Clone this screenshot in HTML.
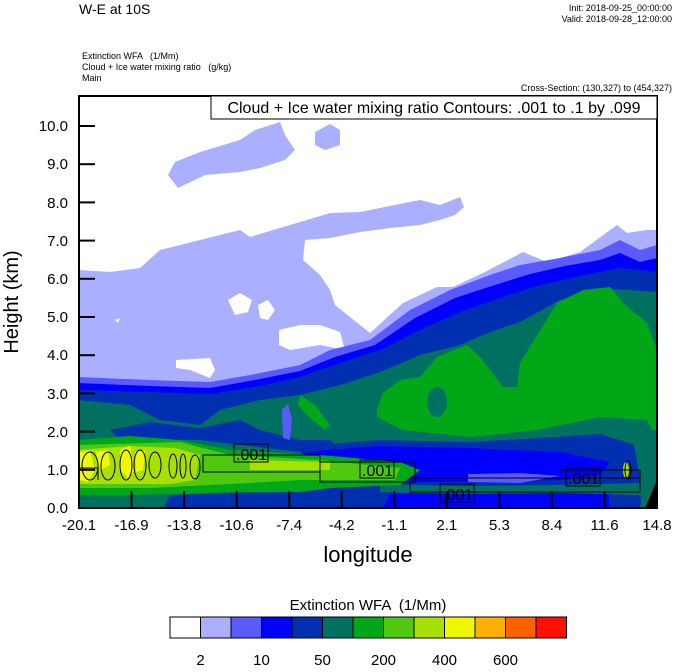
<!DOCTYPE html>
<html><head><meta charset="utf-8"><style>
body{margin:0;background:#fff;width:674px;height:667px;overflow:hidden;font-family:"Liberation Sans",sans-serif}
</style></head><body>
<svg width="674" height="667" viewBox="0 0 674 667" xmlns="http://www.w3.org/2000/svg" font-family="Liberation Sans, sans-serif">
<defs><clipPath id="c"><rect x="79" y="96" width="578" height="412"/></clipPath></defs>
<g clip-path="url(#c)">
<path fill="#aab0ff" d="M79,270 L110,272 L140,268 L160,250 L200,240 L240,230 L250,237 L290,225 L330,213 L360,212 L420,200 L440,205 L460,197 L464,207 L455,215 L440,220 L420,225 L390,228 L360,232 L330,238 L305,240 L303,260 L320,275 L330,290 L335,305 L370,333 L403,303 L437,287 L453,287 L483,273 L523,252 L547,262 L580,252 L617,225 L627,233 L647,230 L657,230 L657,508 L79,508Z"/>
<path fill="#aab0ff" d="M168,175 L175,162 L200,152 L240,140 L255,130 L280,122 L285,135 L295,150 L285,160 L260,168 L240,172 L205,175 L178,188Z"/>
<path fill="#aab0ff" d="M315,132 L330,124 L340,130 L340,145 L325,150 L315,145Z"/>
<path fill="#fff" d="M228,300 L240,293 L252,300 L248,312 L235,315Z M258,305 L268,300 L275,310 L268,320 L260,318Z M279,330 L300,325 L320,325 L340,332 L345,350 L320,345 L290,350 L279,345Z M176,360 L210,358 L215,370 L210,378 L190,370 L176,368Z M115,320 L120,318 L118,323Z"/>
<path fill="#5a5aff" d="M79,377 L150,380 L210,382 L250,375 L300,365 L330,350 L370,340 L410,310 L450,290 L490,275 L520,265 L560,258 L600,250 L620,240 L640,250 L657,245 L657,508 L79,508Z"/>
<path fill="#0000ff" d="M79,383 L150,386 L210,388 L255,380 L300,371 L335,357 L375,345 L415,318 L455,298 L495,285 L530,274 L565,266 L600,260 L620,253 L640,262 L657,258 L657,508 L79,508Z"/>
<path fill="#0030b0" d="M79,390 L150,392 L210,394 L260,386 L300,377 L340,363 L380,350 L420,330 L460,312 L500,298 L540,285 L580,276 L620,268 L657,272 L657,508 L79,508Z"/>
<path fill="#007060" d="M79,400 L130,405 L160,420 L200,425 L220,410 L260,400 L300,395 L340,385 L380,372 L420,355 L460,345 L490,332 L520,322 L560,300 L600,288 L657,292 L657,508 L79,508Z"/>
<path fill="#0030b0" d="M110,430 L150,422 L200,428 L240,420 L260,430 L300,440 L330,440 L340,450 L300,452 L200,440 L120,440Z"/>
<path fill="#5a5aff" d="M282,410 L288,404 L292,420 L290,440 L283,438Z"/>
<path fill="#00a818" d="M377,410 L383,393 L400,380 L420,377 L437,357 L467,345 L480,357 L503,387 L517,387 L520,363 L557,303 L583,290 L610,287 L623,303 L647,323 L657,350 L657,440 L647,420 L600,417 L537,430 L470,437 L403,430 L377,417Z"/>
<ellipse fill="#007060" cx="437" cy="402" rx="10" ry="15"/>
<path fill="#00a818" d="M300,395 L315,405 L330,425 L325,430 L310,418 L298,405Z"/>
<!-- bottom band -->
<path fill="#0030b0" d="M164,508 L170,495 L230,493 L300,492 L330,485 L330,465 L300,446 L380,440 L470,442 L540,438 L600,434 L635,445 L645,470 L640,508Z"/>
<path fill="#0000ff" d="M300,452 L380,446 L470,448 L560,452 L610,462 L600,475 L560,480 L470,482 L420,482 L330,470Z"/>
<path fill="#0000ff" d="M383,508 L390,494 L470,492 L560,492 L609,494 L609,508Z"/>
<path fill="#5a5aff" d="M468,474 L520,473 L560,476 L520,483 L468,482Z"/>
<path fill="#007060" d="M380,484 L460,486 L560,485 L640,483 L645,478 L657,460 L657,508 L645,508 L640,495 L560,493 L460,494 L380,492Z"/>
<path fill="#007060" d="M630,430 L657,430 L657,508 L645,508 L640,480 L635,450Z"/>
<path fill="#00a818" d="M79,440 L130,436 L180,440 L230,450 L320,455 L400,462 L420,470 L400,485 L330,488 L300,492 L230,492 L180,494 L120,495 L79,495Z"/>
<path fill="#50c810" d="M79,445 L180,442 L230,455 L320,460 L400,468 L395,480 L300,480 L230,484 L150,488 L79,488Z"/>
<path fill="#a8e000" d="M79,450 L130,446 L175,448 L200,455 L195,480 L170,484 L130,484 L79,484Z M250,460 L330,462 L330,470 L250,470Z"/>
<path fill="#f0f800" d="M80,452 L90,450 L95,470 L88,482 L80,480Z M96,452 L108,450 L110,465 L100,470Z M120,450 L130,446 L135,470 L128,478 L120,470Z M135,452 L145,450 L143,470 L136,472Z"/>
<ellipse fill="#a8e000" cx="626" cy="470" rx="3" ry="8"/>
<path fill="#000" d="M645,508 L657,480 L657,508Z"/>
</g>
<g fill="none" stroke="#000" stroke-width="1">
<path d="M79,468 L98,468 L98,480 M203,455 L320,455 L320,472 L203,472Z M320,462 L415,462 L415,482 L320,482Z M410,478 L640,478 L640,492 L410,492Z M560,470 L640,470 L640,480"/>
<ellipse cx="90" cy="466" rx="8" ry="14"/><ellipse cx="108" cy="466" rx="7" ry="14"/>
<ellipse cx="126" cy="465" rx="6" ry="15"/><ellipse cx="140" cy="465" rx="6" ry="15"/>
<ellipse cx="155" cy="465" rx="6" ry="13"/><ellipse cx="173" cy="466" rx="4" ry="12"/>
<ellipse cx="183" cy="466" rx="3" ry="12"/><ellipse cx="195" cy="467" rx="5" ry="12"/>
<ellipse cx="628" cy="470" rx="3" ry="9"/>
</g>
<g font-size="16" fill="#000">
<rect x="234" y="444" width="34" height="18" fill="none" stroke="#000"/><text x="236" y="460">.001</text>
<rect x="360" y="460" width="34" height="18" fill="none" stroke="#000"/><text x="362" y="476">.001</text>
<rect x="440" y="484" width="34" height="18" fill="none" stroke="#000"/><text x="442" y="500">.001</text>
<rect x="566" y="468" width="34" height="18" fill="none" stroke="#000"/><text x="568" y="484">.001</text>
</g>
<rect x="79" y="96" width="578" height="412" fill="none" stroke="#000" stroke-width="2"/>
<g stroke="#000" stroke-width="2">
<line x1="79" y1="508" x2="95" y2="508"/><line x1="79" y1="469.8" x2="95" y2="469.8"/><line x1="79" y1="431.6" x2="95" y2="431.6"/><line x1="79" y1="393.4" x2="95" y2="393.4"/><line x1="79" y1="355.2" x2="95" y2="355.2"/><line x1="79" y1="317" x2="95" y2="317"/><line x1="79" y1="278.8" x2="95" y2="278.8"/><line x1="79" y1="240.6" x2="95" y2="240.6"/><line x1="79" y1="202.4" x2="95" y2="202.4"/><line x1="79" y1="164.2" x2="95" y2="164.2"/><line x1="79" y1="126" x2="95" y2="126"/>
<line x1="131.5" y1="508" x2="131.5" y2="491"/><line x1="184.1" y1="508" x2="184.1" y2="491"/><line x1="236.6" y1="508" x2="236.6" y2="491"/><line x1="289.2" y1="508" x2="289.2" y2="491"/><line x1="341.7" y1="508" x2="341.7" y2="491"/><line x1="394.3" y1="508" x2="394.3" y2="491"/><line x1="446.8" y1="508" x2="446.8" y2="491"/><line x1="499.4" y1="508" x2="499.4" y2="491"/><line x1="551.9" y1="508" x2="551.9" y2="491"/><line x1="604.5" y1="508" x2="604.5" y2="491"/>
</g>
<g font-size="15" text-anchor="end">
<text x="68" y="513">0.0</text><text x="68" y="475">1.0</text><text x="68" y="437">2.0</text><text x="68" y="399">3.0</text><text x="68" y="360">4.0</text><text x="68" y="322">5.0</text><text x="68" y="284">6.0</text><text x="68" y="246">7.0</text><text x="68" y="208">8.0</text><text x="68" y="169">9.0</text><text x="68" y="131">10.0</text>
</g>
<g font-size="15" text-anchor="middle">
<text x="79" y="530">-20.1</text><text x="131.5" y="530">-16.9</text><text x="184.1" y="530">-13.8</text><text x="236.6" y="530">-10.6</text><text x="289.2" y="530">-7.4</text><text x="341.7" y="530">-4.2</text><text x="394.3" y="530">-1.1</text><text x="446.8" y="530">2.1</text><text x="499.4" y="530">5.3</text><text x="551.9" y="530">8.4</text><text x="604.5" y="530">11.6</text><text x="657" y="530">14.8</text>
</g>
<text x="368" y="562" font-size="22" text-anchor="middle">longitude</text>
<text transform="translate(18,302) rotate(-90)" font-size="20" text-anchor="middle">Height (km)</text>
<text x="79" y="14" font-size="14">W-E at 10S</text>
<g font-size="9" text-anchor="end"><text x="672" y="11">Init: 2018-09-25_00:00:00</text><text x="672" y="22">Valid: 2018-09-28_12:00:00</text><text x="672" y="91">Cross-Section: (130,327) to (454,327)</text></g>
<g font-size="9"><text x="82" y="59">Extinction WFA &#160;&#160;(1/Mm)</text><text x="82" y="70">Cloud + Ice water mixing ratio &#160;&#160;(g/kg)</text><text x="82" y="81">Main</text></g>
<rect x="211" y="96" width="446" height="23" fill="#fff" stroke="#000"/>
<text x="434" y="113" font-size="16" text-anchor="middle">Cloud + Ice water mixing ratio Contours: .001 to .1 by .099</text>
<text x="368" y="610" font-size="15" text-anchor="middle">Extinction WFA &#160;(1/Mm)</text>
<g stroke="#000" stroke-width="1">
<rect x="170" y="617" width="30.5" height="21" fill="#fff"/><rect x="200.5" y="617" width="30.5" height="21" fill="#aab0ff"/><rect x="231" y="617" width="30.5" height="21" fill="#5a5aff"/><rect x="261.5" y="617" width="30.5" height="21" fill="#0000ff"/><rect x="292" y="617" width="30.5" height="21" fill="#0030b0"/><rect x="322.5" y="617" width="30.5" height="21" fill="#007060"/><rect x="353" y="617" width="30.5" height="21" fill="#00a818"/><rect x="383.5" y="617" width="30.5" height="21" fill="#50c810"/><rect x="414" y="617" width="30.5" height="21" fill="#a8e000"/><rect x="444.5" y="617" width="30.5" height="21" fill="#f0f800"/><rect x="475" y="617" width="30.5" height="21" fill="#ffb000"/><rect x="505.5" y="617" width="30.5" height="21" fill="#ff6000"/><rect x="536" y="617" width="30.5" height="21" fill="#ff1000"/>
</g>
<g font-size="15" text-anchor="middle"><text x="200.5" y="665">2</text><text x="261.5" y="665">10</text><text x="322.5" y="665">50</text><text x="383.5" y="665">200</text><text x="444.5" y="665">400</text><text x="505.5" y="665">600</text></g>
</svg>
</body></html>
